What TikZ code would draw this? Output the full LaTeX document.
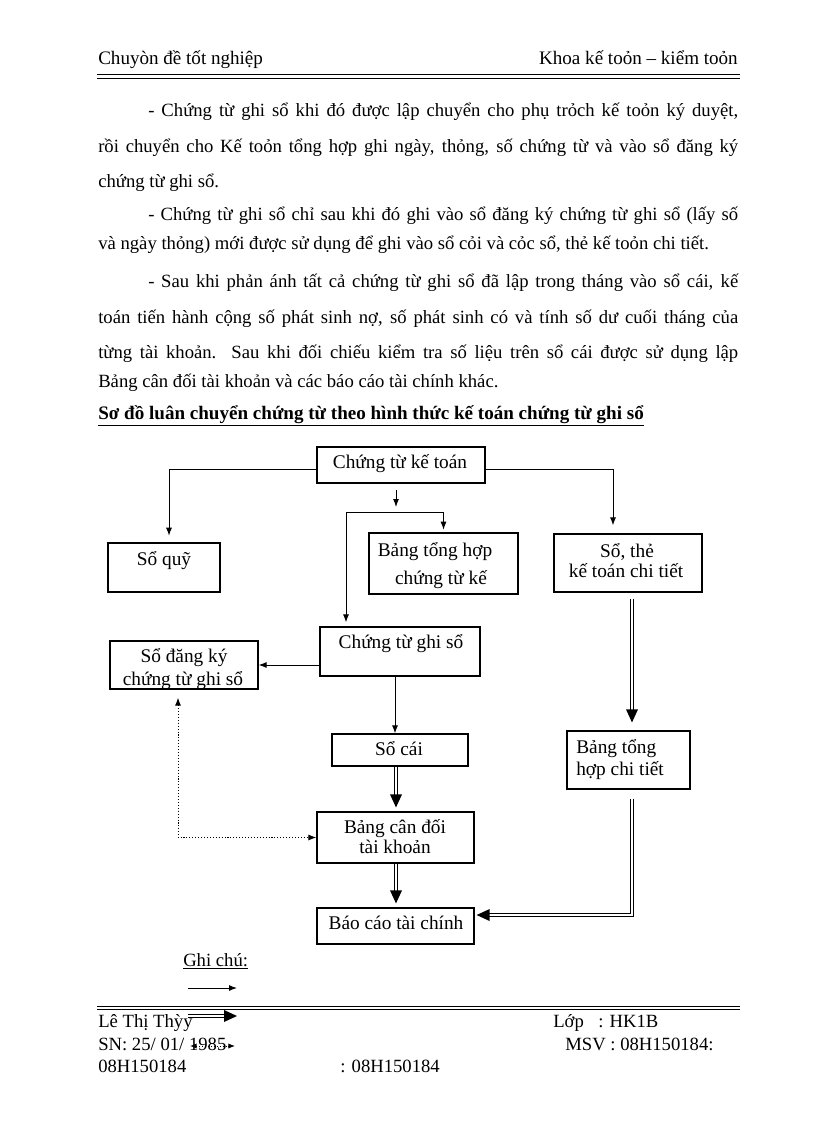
\documentclass[tikz,border=0pt]{standalone}
\usepackage{fontspec}
\setmainfont{Liberation Serif}
\usetikzlibrary{arrows.meta,calc,fit}
\begin{document}
\begin{tikzpicture}[x=0.75pt,y=-0.75pt,
  txt/.style={inner sep=0pt, font=\fontsize{14}{16}\selectfont, text height=9.5pt, text depth=2.8pt},
  hdr/.style={inner sep=0pt, font=\fontsize{14.3}{16}\selectfont, text height=9.5pt, text depth=2.8pt},
  lbl/.style={inner sep=0pt, font=\fontsize{14.5}{16}\selectfont, text height=9.5pt, text depth=2.8pt},
  box/.style={draw, line width=0.9pt, inner sep=0pt},
  arr/.style={draw, line width=0.75pt, -{Latex[length=6pt,width=4.5pt]}},
  dbl/.style={draw, double, double distance=1.5pt, line width=0.75pt},
  dots/.style={draw, line width=0.75pt, dash pattern=on 0.8pt off 1.4pt},
]
\newcommand\tipdown[1]{\fill (#1) -- ++(-6,-13) -- ++(12,0) -- cycle;}
\newcommand\tipleft[1]{\fill (#1) -- ++(13,-6) -- ++(0,12) -- cycle;}
\newcommand\tipright[1]{\fill (#1) -- ++(-13,-6) -- ++(0,12) -- cycle;}
\useasboundingbox[fill=white] (0,0) rectangle (816,1123);

% header
\node[hdr, anchor=west] (h1) at (98,60) {Chuyòn đề tốt nghiệp};
\node[hdr, anchor=east] (h2) at (738,60) {Khoa kế toỏn – kiểm toỏn};
\draw[line width=1.3pt] (97,74.5) -- (740,74.5);
\draw[line width=0.5pt] (97,78) -- (740,78);

% paragraphs
\node[txt, anchor=west] (p1) at (148,112) {\makebox[442.5pt][s]{- Chứng từ ghi sổ khi đó được lập chuyển cho phụ trỏch kế toỏn ký duyệt,}};
\node[txt, anchor=west] (p2) at (98,148) {\makebox[480pt][s]{rồi chuyển cho Kế toỏn tổng hợp ghi ngày, thỏng, số chứng từ và vào sổ đăng ký}};
\node[txt, anchor=west] (p3) at (98,183) {chứng từ ghi sổ.};
\node[txt, anchor=west] (p4) at (148,216) {\makebox[442.5pt][s]{- Chứng từ ghi sổ chỉ sau khi đó ghi vào sổ đăng ký chứng từ ghi sổ (lấy số}};
\node[txt, anchor=west] (p5) at (98,245) {và ngày thỏng) mới được sử dụng để ghi vào sổ cỏi và cỏc sổ, thẻ kế toỏn chi tiết.};
\node[txt, anchor=west] (p6) at (148,283) {\makebox[442.5pt][s]{- Sau khi phản ánh tất cả chứng từ ghi sổ đã lập trong tháng vào sổ cái, kế}};
\node[txt, anchor=west] (p7) at (98,319) {\makebox[480pt][s]{toán tiến hành cộng số phát sinh nợ, số phát sinh có và tính số dư cuối tháng của}};
\node[txt, anchor=west] (p8) at (98,354) {\makebox[480pt][s]{từng tài khoản. Sau khi đối chiếu kiểm tra số liệu trên sổ cái được sử dụng lập}};
\node[txt, anchor=west] (p9) at (98,383) {Bảng cân đối tài khoản và các báo cáo tài chính khác.};
\node[txt, anchor=west, font=\fontsize{14.3}{16}\selectfont\bfseries] (title) at (98,415) {\underline{Sơ đồ luân chuyển chứng từ theo hình thức kế toán chứng từ ghi sổ}};

% boxes
\node[box, fit={(317,447) (485,483)}] (ctkt) {};
\node[box, fit={(108,543) (220,592)}] (soquy) {};
\node[box, fit={(369,533) (518,594)}] (btch) {};
\node[box, fit={(554,534) (702,592)}] (sothe) {};
\node[box, fit={(320,627) (480,676)}] (ctgs) {};
\node[box, fit={(110,641) (258,689)}] (sdk) {};
\node[box, fit={(332,734) (468,766)}] (socai) {};
\node[box, fit={(567,731) (690,789)}] (bthct) {};
\node[box, fit={(317,812) (474,863)}] (bcd) {};
\node[box, fit={(317,908) (474,944)}] (bctc) {};

% labels
\node[lbl] (t1) at (400,464) {Chứng từ kế toán};
\node[lbl] (t2) at (164,561) {Sổ quỹ};
\node[lbl] (t3a) at (435,552) {Bảng tổng hợp};
\node[lbl] (t3b) at (441,580) {chứng từ kế};
\node[lbl] (t4a) at (627,553) {Sổ, thẻ};
\node[lbl] (t4b) at (626,573) {kế toán chi tiết};
\node[lbl] (t5) at (401,644) {Chứng từ ghi sổ};
\node[lbl] (t6a) at (184,658) {Sổ đăng ký};
\node[lbl] (t6b) at (183,681) {chứng từ ghi sổ};
\node[lbl] (t7) at (399,751) {Sổ cái};
\node[lbl, anchor=west] (t8a) at (576,749) {Bảng tổng};
\node[lbl, anchor=west] (t8b) at (576,771) {hợp chi tiết};
\node[lbl] (t9a) at (395,829) {Bảng cân đối};
\node[lbl] (t9b) at (395,849) {tài khoản};
\node[lbl] (t10) at (396,925) {Báo cáo tài chính};

% single arrows
\draw[arr, shorten >=5pt] ($(ctkt.west)+(0,4)$) -| ($(soquy.north)+(5,0)$);
\draw[arr, shorten >=6pt] ($(ctkt.east)+(0,4)$) -| ($(sothe.north)+(-15,0)$);
\coordinate (s1) at (396,490);
\coordinate (s2) at (396,507);
\draw[arr] (s1) -- (s2);
\coordinate (j1) at (346,512);
\draw[arr, shorten >=2pt] (j1) -| (btch.north);
\draw[arr, shorten >=3pt] (j1) -- (j1 |- ctgs.north);
\draw[arr] (ctgs.west |- sdk.east) -- (sdk.east);
\draw[arr] ($(ctgs.south)+(-5,0)$) -- ($(socai.north)+(-5,0)$);

% dotted two-way
\coordinate (dc) at ($(sdk.south)+(-6,0)$);
\draw[dots, {Latex[length=6pt,width=4.5pt]}-{Latex[length=6pt,width=4.5pt]}, shorten <=6pt] (dc) -- (dc |- bcd.west) -- (bcd.west);

% double arrows
\coordinate (d1) at ($(bcd.north)+(0.5,-4)$);
\draw[dbl] (d1 |- socai.south) -- ($(d1)+(0,-11)$);
\tipdown{d1}
\coordinate (d2) at ($(bctc.north)+(0.5,-4)$);
\draw[dbl] (d2 |- bcd.south) -- ($(d2)+(0,-11)$);
\tipdown{d2}
\coordinate (d3t) at ($(sothe.south)+(4,6)$);
\coordinate (d3) at ($(bthct.north)+(3.5,-8)$);
\draw[dbl] (d3t) -- ($(d3)+(0,-11)$);
\tipdown{d3}
\coordinate (d4t) at ($(bthct.south)+(3.5,9)$);
\coordinate (d4) at ($(bctc.east)+(2,-11)$);
\draw[dbl] (d4t) |- ($(d4)+(11,0)$);
\tipleft{d4}

% legend
\node[txt, anchor=west] (gc) at (183,962) {\underline{Ghi chú:}};
\coordinate (l1a) at (188,988);
\coordinate (l1b) at (237,988);
\draw[arr] (l1a) -- (l1b);

% footer
\draw[line width=0.5pt] (97,1006) -- (740,1006);
\draw[line width=1.3pt] (97,1009.5) -- (740,1009.5);
\node[txt, anchor=west] (f1) at (98,1023) {Lê Thị Thỳy};
\node[txt, anchor=west] (f2) at (553,1023) {Lớp};
\node[txt, anchor=west] (f3) at (598,1023) {: HK1B};
\node[txt, anchor=west] (f4) at (98,1046) {SN: 25/ 01/ 1985};
\node[txt, anchor=west] (f5) at (565,1046) {MSV : 08H150184:};
\node[txt, anchor=west] (f6) at (98,1068) {08H150184};
\node[txt, anchor=west] (f7) at (340,1068) {: 08H150184};
\coordinate (l2a) at (188,1016);
\coordinate (l2b) at (237,1016);
\draw[dbl] (l2a) -- ($(l2b)+(-11,0)$);
\tipright{l2b}
\coordinate (l3a) at (190,1046);
\coordinate (l3b) at (235,1046);
\draw[dots, {Latex[length=5pt,width=4pt]}-{Latex[length=5pt,width=4pt]}] (l3a) -- (l3b);
\end{tikzpicture}
\end{document}
